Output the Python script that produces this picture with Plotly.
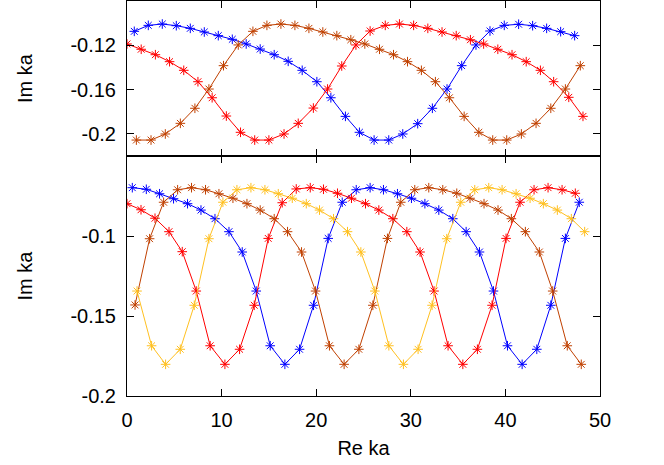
import plotly.graph_objects as go
from plotly.subplots import make_subplots

# top panel: three root branches (Re ka, Im ka)
top_blue_x = [0.77, 2.25, 3.73, 5.21, 6.69, 8.17, 9.65, 11.13, 12.6, 14.08, 15.56, 17.04,
              18.52, 20.07, 21.55, 23.09, 24.57, 26.12, 27.67, 29.15, 30.73, 32.28, 33.83,
              35.38, 36.89, 38.37, 39.88, 41.4, 42.88, 44.36, 45.84, 47.32]
top_blue_y = [-0.1074, -0.1020, -0.1008, -0.1023, -0.1047, -0.1080, -0.1113, -0.1146,
              -0.1188, -0.1234, -0.1285, -0.1345, -0.1426, -0.1529, -0.1674, -0.1842,
              -0.1986, -0.2056, -0.2056, -0.2001, -0.1908, -0.1769, -0.1595, -0.1384,
              -0.1197, -0.1071, -0.1020, -0.1010, -0.1023, -0.1047, -0.1077, -0.1113]

top_red_x = [0, 1.5, 3.0, 4.5, 6.0, 7.5, 9.0, 10.5, 12.0, 13.5, 15.0, 16.6, 18.1, 19.7,
             21.2, 22.7, 24.2, 25.7, 27.3, 28.8, 30.3, 31.8, 33.3, 34.8, 36.3, 37.7,
             39.2, 40.7, 42.2, 43.7, 45.1, 46.7, 48.2]
top_red_y = [-0.1188, -0.1236, -0.1285, -0.1348, -0.1426, -0.1529, -0.1674, -0.1839,
             -0.1986, -0.2056, -0.2056, -0.2001, -0.1905, -0.1767, -0.1595, -0.1387,
             -0.1197, -0.1071, -0.1020, -0.1008, -0.1020, -0.1047, -0.1080, -0.1113,
             -0.1150, -0.1188, -0.1236, -0.1285, -0.1348, -0.1426, -0.1529, -0.1670,
             -0.1842]

top_brown_x = [0.99, 2.54, 4.05, 5.64, 7.18, 8.66, 10.2, 11.76, 13.31, 14.79, 16.27,
               17.75, 19.23, 20.7, 22.18, 23.66, 25.14, 26.69, 28.17, 29.65, 31.12,
               32.6, 34.08, 35.64, 37.19, 38.66, 40.14, 41.69, 43.24, 44.8, 46.34, 47.92]
top_brown_y = [-0.2056, -0.2056, -0.2001, -0.1905, -0.1769, -0.1595, -0.1384, -0.1197,
               -0.1074, -0.1020, -0.1008, -0.1020, -0.1047, -0.1080, -0.1113, -0.1150,
               -0.1188, -0.1236, -0.1285, -0.1348, -0.1426, -0.1529, -0.1674, -0.1842,
               -0.1986, -0.2056, -0.2056, -0.2001, -0.1905, -0.1769, -0.1595, -0.1384]

# bottom panel: four root branches
bot_blue_x = [0.56, 2.04, 3.44, 4.92, 6.4, 7.82, 9.3, 10.78, 12.18, 13.66, 15.14, 16.69,
              18.24, 19.72, 21.27, 22.75, 24.23, 25.7, 27.11, 28.59, 30.07, 31.49, 32.96,
              34.44, 35.85, 37.26, 38.74, 40.22, 41.77, 43.32, 44.8, 46.34, 47.81]
bot_blue_y = [-0.0698, -0.0708, -0.0736, -0.0767, -0.0798, -0.0838, -0.0892, -0.0973,
              -0.1100, -0.1344, -0.1686, -0.1802, -0.1708, -0.1433, -0.1015, -0.0789,
              -0.0711, -0.0698, -0.0711, -0.0736, -0.0764, -0.0798, -0.0838, -0.0892,
              -0.0973, -0.1100, -0.1344, -0.1686, -0.1802, -0.1708, -0.1433, -0.1015,
              -0.0789]

bot_red_x = [0, 1.48, 2.96, 4.44, 5.84, 7.32, 8.79, 10.35, 11.9, 13.45, 14.93, 16.41,
             17.89, 19.37, 20.77, 22.25, 23.73, 25.21, 26.62, 28.1, 29.58, 30.98, 32.46,
             33.94, 35.5, 37.04, 38.59, 40.07, 41.55, 43.03, 44.51, 45.99, 47.39]
bot_red_y = [-0.0798, -0.0836, -0.0889, -0.0973, -0.1098, -0.1344, -0.1686, -0.1802,
             -0.1708, -0.1433, -0.1015, -0.0792, -0.0706, -0.0698, -0.0708, -0.0733,
             -0.0764, -0.0798, -0.0838, -0.0892, -0.0973, -0.1100, -0.1344, -0.1686,
             -0.1802, -0.1708, -0.1433, -0.1015, -0.0789, -0.0711, -0.0698, -0.0711,
             -0.0733]

bot_brown_x = [0.85, 2.39, 3.87, 5.35, 6.82, 8.3, 9.72, 11.2, 12.68, 14.08, 15.56, 16.97,
               18.45, 19.93, 21.4, 22.95, 24.51, 25.99, 27.53, 28.94, 30.42, 31.9, 33.38,
               34.86, 36.26, 37.74, 39.22, 40.63, 42.11, 43.59, 45.0, 46.54, 48.02]
bot_brown_y = [-0.1431, -0.1017, -0.0789, -0.0711, -0.0698, -0.0711, -0.0736, -0.0764,
               -0.0798, -0.0838, -0.0892, -0.0973, -0.1100, -0.1344, -0.1686, -0.1802,
               -0.1708, -0.1433, -0.1015, -0.0789, -0.0711, -0.0698, -0.0711, -0.0733,
               -0.0764, -0.0798, -0.0838, -0.0892, -0.0973, -0.1100, -0.1344, -0.1686,
               -0.1802]

bot_yellow_x = [1.06, 2.6, 4.08, 5.63, 7.11, 8.66, 10.14, 11.62, 13.1, 14.58, 15.99, 17.47,
                18.95, 20.35, 21.83, 23.31, 24.72, 26.2, 27.68, 29.22, 30.77, 32.25, 33.8,
                35.28, 36.76, 38.24, 39.65, 41.13, 42.61, 44.01, 45.49, 46.97, 48.38]
bot_yellow_y = [-0.1344, -0.1686, -0.1802, -0.1708, -0.1433, -0.1017, -0.0789, -0.0711,
                -0.0698, -0.0711, -0.0736, -0.0764, -0.0798, -0.0838, -0.0892, -0.0973,
                -0.1100, -0.1344, -0.1686, -0.1802, -0.1708, -0.1433, -0.1017, -0.0789,
                -0.0711, -0.0698, -0.0711, -0.0736, -0.0764, -0.0798, -0.0838, -0.0892,
                -0.0973]

BLUE, RED, BROWN, YELLOW = "#0000ff", "#ff0000", "#c04000", "#ffc020"
FONT = "Liberation Sans, Arial, sans-serif"

fig = make_subplots(rows=2, cols=1, shared_xaxes=True, vertical_spacing=0,
                    row_heights=[155 / 395, 240 / 395])


def add(x, y, color, row):
    fig.add_trace(go.Scatter(
        x=x, y=y, mode="lines+markers",
        line=dict(color=color, width=1),
        marker=dict(symbol="asterisk-open", size=8, color=color,
                    line=dict(color=color, width=1)),
        showlegend=False), row=row, col=1)


add(top_blue_x, top_blue_y, BLUE, 1)
add(top_red_x, top_red_y, RED, 1)
add(top_brown_x, top_brown_y, BROWN, 1)
add(bot_blue_x, bot_blue_y, BLUE, 2)
add(bot_red_x, bot_red_y, RED, 2)
add(bot_brown_x, bot_brown_y, BROWN, 2)
add(bot_yellow_x, bot_yellow_y, YELLOW, 2)

axis_style = dict(showline=True, linecolor="black", linewidth=1, mirror="ticks",
                  ticks="inside", ticklen=7, tickcolor="black", showgrid=False,
                  zeroline=False, tickfont=dict(size=20, color="black"),
                  ticklabelstandoff=6)

fig.update_xaxes(range=[0, 50], dtick=10, **axis_style)
fig.update_xaxes(showticklabels=False, row=1, col=1)
fig.update_xaxes(title=dict(text="Re ka", font=dict(size=20, color="black"), standoff=10),
                 row=2, col=1)
fig.update_yaxes(**axis_style)
fig.update_yaxes(range=[-0.22, -0.08], tickvals=[-0.2, -0.16, -0.12],
                 ticktext=["-0.2", "-0.16", "-0.12"], row=1, col=1)
fig.update_yaxes(range=[-0.2, -0.05], tickvals=[-0.2, -0.15, -0.1],
                 ticktext=["-0.2", "-0.15", "-0.1"], row=2, col=1)
fig.update_yaxes(title=dict(text="Im ka", font=dict(size=20, color="black"), standoff=32))

fig.update_layout(
    width=664, height=465,
    margin=dict(l=127, r=64, t=1, b=69),
    paper_bgcolor="white", plot_bgcolor="white",
    font=dict(family=FONT, size=20, color="black"),
)

fig.write_html("out.html", config={"displayModeBar": False},
               post_script="document.body.style.margin = '0';")
